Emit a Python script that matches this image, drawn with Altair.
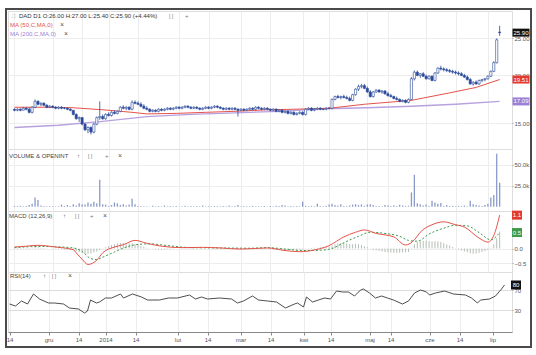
import altair as alt
import pandas as pd

# ---------------- data ----------------
opens = [
    16.3, 16.2, 16.3, 16.2, 16.4, 16.3, 16.0, 16.5, 17.1, 16.8,
    16.9, 16.7, 16.5, 16.6, 16.5, 16.4, 16.5, 16.4, 16.4, 16.3,
    16.2, 15.8, 15.4, 15.5, 14.9, 14.4, 14.6, 14.2, 14.9, 15.5,
    15.6, 15.4, 15.8, 15.7, 16.0, 15.9, 16.1, 16.5, 16.4, 16.5,
    16.3, 17.0, 16.9, 16.8, 16.6, 16.4, 16.3, 16.1, 16.2, 16.1,
    16.3, 16.2, 16.3, 16.4, 16.3, 16.4, 16.5, 16.4, 16.5, 16.6,
    16.5, 16.4, 16.5, 16.4, 16.3, 16.4, 16.5, 16.4, 16.5, 16.6,
    16.5, 16.4, 16.3, 16.4, 16.3, 16.4, 16.3, 16.2, 16.3, 16.2,
    16.3, 16.4, 16.3, 16.5, 16.4, 16.3, 16.4, 16.3, 16.2, 16.3,
    16.1, 16.2, 16.0, 16.1, 15.9, 16.0, 15.8, 15.9, 16.0, 15.8,
    16.3, 16.4, 16.2, 16.3, 16.4, 16.3, 16.3, 16.4, 16.4, 17.3,
    17.6, 17.5, 17.6, 17.5, 17.4, 17.2, 17.8, 18.4, 18.7, 18.8,
    18.5, 18.1, 17.6, 18.1, 18.3, 18.1, 18.2, 17.9, 17.7, 17.6,
    17.4, 17.3, 17.1, 17.2, 17.0, 17.3, 19.6, 20.4, 20.0, 20.2,
    19.9, 19.6, 19.9, 19.4, 20.3, 20.9, 20.8, 20.7, 20.6, 20.5,
    20.4, 20.3, 20.2, 20.0, 19.8, 19.5, 19.0, 19.2, 19.0, 19.4,
    19.5, 19.6, 19.9, 20.5, 21.6, 26.0,
]
highs = [
    16.4, 16.4, 16.4, 16.5, 16.5, 16.5, 16.6, 17.3, 17.2, 17.0,
    17.0, 16.8, 16.7, 16.7, 16.6, 16.6, 16.6, 16.5, 16.5, 16.4,
    16.2, 15.9, 15.6, 15.5, 15.0, 14.7, 14.7, 15.0, 15.6, 17.1,
    15.8, 15.9, 16.0, 16.1, 16.2, 16.2, 16.6, 16.7, 16.6, 16.6,
    17.2, 17.2, 17.1, 17.0, 16.8, 16.6, 16.4, 16.3, 16.3, 16.4,
    16.4, 16.4, 16.5, 16.5, 16.5, 16.6, 16.6, 16.6, 16.7, 16.7,
    16.6, 16.6, 16.6, 16.5, 16.5, 16.6, 16.6, 16.6, 16.7, 16.7,
    16.6, 16.5, 16.5, 16.5, 16.5, 16.5, 16.4, 16.4, 16.4, 16.4,
    16.5, 16.5, 16.6, 16.6, 16.5, 16.5, 16.5, 16.4, 16.4, 16.4,
    16.3, 16.3, 16.2, 16.2, 16.1, 16.1, 16.0, 16.1, 16.1, 16.4,
    16.5, 16.5, 16.4, 16.5, 16.5, 16.4, 16.5, 16.5, 17.4, 17.7,
    17.8, 17.7, 17.8, 17.7, 17.6, 17.9, 18.5, 18.9, 19.0, 19.0,
    18.7, 18.3, 18.2, 18.4, 18.4, 18.3, 18.3, 18.1, 17.9, 17.7,
    17.6, 17.4, 17.3, 17.3, 17.4, 19.8, 20.6, 20.6, 20.3, 20.4,
    20.1, 20.0, 20.0, 20.4, 21.0, 21.2, 21.0, 20.9, 20.8, 20.7,
    20.6, 20.5, 20.4, 20.2, 20.0, 19.7, 19.3, 19.4, 19.5, 19.6,
    19.7, 20.0, 20.6, 21.8, 25.0, 27.0,
]
lows = [
    16.1, 16.1, 16.1, 16.2, 16.2, 15.9, 15.9, 16.4, 16.7, 16.6,
    16.6, 16.4, 16.4, 16.4, 16.3, 16.3, 16.3, 16.3, 16.2, 16.1,
    15.7, 15.3, 15.1, 14.8, 14.3, 14.1, 14.0, 14.1, 14.8, 15.3,
    15.3, 15.3, 15.6, 15.6, 15.8, 15.8, 16.0, 16.3, 16.2, 16.2,
    16.2, 16.8, 16.7, 16.5, 16.3, 16.2, 16.0, 16.0, 16.0, 16.0,
    16.1, 16.1, 16.2, 16.2, 16.2, 16.3, 16.3, 16.3, 16.4, 16.4,
    16.3, 16.3, 16.3, 16.2, 16.2, 16.3, 16.3, 16.3, 16.4, 16.4,
    16.3, 16.2, 16.2, 16.2, 16.2, 16.2, 15.6, 16.1, 16.1, 16.1,
    16.2, 16.2, 16.2, 16.3, 16.2, 16.2, 16.2, 16.1, 16.1, 16.0,
    16.0, 15.9, 15.9, 15.8, 15.8, 15.7, 15.7, 15.8, 15.7, 15.7,
    16.2, 16.1, 16.1, 16.2, 16.2, 16.2, 16.2, 16.3, 16.3, 17.2,
    17.4, 17.3, 17.4, 17.3, 17.1, 17.1, 17.7, 18.2, 18.5, 18.4,
    18.0, 17.5, 17.5, 18.0, 18.0, 17.9, 17.8, 17.6, 17.5, 17.3,
    17.2, 17.0, 17.0, 16.9, 16.9, 17.2, 19.4, 19.9, 19.7, 19.8,
    19.5, 19.5, 19.3, 19.3, 20.2, 20.6, 20.5, 20.4, 20.3, 20.2,
    20.1, 20.0, 19.9, 19.7, 19.4, 18.9, 18.8, 18.9, 18.9, 19.2,
    19.3, 19.5, 19.8, 20.4, 21.5, 25.4,
]
closes = [
    16.2, 16.3, 16.2, 16.4, 16.3, 16.0, 16.5, 17.1, 16.8, 16.9,
    16.7, 16.5, 16.6, 16.5, 16.4, 16.5, 16.4, 16.4, 16.3, 16.2,
    15.8, 15.4, 15.5, 14.9, 14.4, 14.6, 14.2, 14.9, 15.5, 15.6,
    15.4, 15.8, 15.7, 16.0, 15.9, 16.1, 16.5, 16.4, 16.5, 16.3,
    17.0, 16.9, 16.8, 16.6, 16.4, 16.3, 16.1, 16.2, 16.1, 16.3,
    16.2, 16.3, 16.4, 16.3, 16.4, 16.5, 16.4, 16.5, 16.6, 16.5,
    16.4, 16.5, 16.4, 16.3, 16.4, 16.5, 16.4, 16.5, 16.6, 16.5,
    16.4, 16.3, 16.4, 16.3, 16.4, 16.3, 16.2, 16.3, 16.2, 16.3,
    16.4, 16.3, 16.5, 16.4, 16.3, 16.4, 16.3, 16.2, 16.3, 16.1,
    16.2, 16.0, 16.1, 15.9, 16.0, 15.8, 15.9, 16.0, 15.8, 16.3,
    16.4, 16.2, 16.3, 16.4, 16.3, 16.3, 16.4, 16.4, 17.3, 17.6,
    17.5, 17.6, 17.5, 17.4, 17.2, 17.8, 18.4, 18.7, 18.8, 18.5,
    18.1, 17.6, 18.1, 18.3, 18.1, 18.2, 17.9, 17.7, 17.6, 17.4,
    17.3, 17.1, 17.2, 17.0, 17.3, 19.6, 20.4, 20.0, 20.2, 19.9,
    19.6, 19.9, 19.4, 20.3, 20.9, 20.8, 20.7, 20.6, 20.5, 20.4,
    20.3, 20.2, 20.0, 19.8, 19.5, 19.0, 19.2, 19.0, 19.4, 19.5,
    19.6, 19.9, 20.5, 21.6, 24.8, 25.9,
]
volume_k = [
    1.0, 0.8, 1.2, 0.6, 0.9, 2.0, 3.5, 11.0, 8.0, 1.5,
    1.0, 0.5, 0.8, 0.6, 0.4, 0.7, 2.5, 1.0, 2.0, 0.8,
    3.0, 1.5, 4.0, 3.0, 2.5, 5.0, 3.5, 6.0, 4.0, 32.0,
    3.0, 2.5, 1.0, 2.0, 5.0, 4.0, 2.0, 3.0, 1.5, 2.5,
    9.5, 3.0, 1.0, 0.8, 0.5, 0.6, 0.4, 1.2, 0.5, 0.8,
    0.6, 1.5, 0.5, 0.8, 0.6, 1.0, 0.4, 0.7, 1.2, 0.6,
    0.8, 0.5, 1.0, 0.6, 1.3, 0.5, 0.8, 0.6, 1.0, 0.7,
    0.5, 0.9, 0.6, 1.4, 0.5, 0.8, 2.0, 0.6, 0.9, 0.5,
    0.7, 1.1, 0.5, 0.8, 0.6, 1.0, 0.4, 0.8, 0.6, 1.2,
    0.8, 2.0, 1.5, 0.6, 0.8, 0.5, 1.0, 0.7, 6.0, 1.2,
    0.8, 1.0, 0.6, 3.6, 0.9, 0.7, 1.1, 2.5, 3.5, 2.0,
    1.5, 3.0, 1.0, 0.8, 1.5, 2.5, 3.0, 2.0, 2.8, 1.0,
    2.5, 3.0, 2.0, 0.8, 1.0, 0.6, 2.0, 1.5, 0.8, 1.8,
    1.0, 2.2, 1.5, 0.8, 1.2, 17.0, 38.0, 4.0, 3.0, 1.5,
    2.5, 1.0, 7.0, 5.0, 3.5, 4.5, 1.0, 2.0, 0.8, 1.2,
    0.6, 1.0, 0.8, 1.5, 0.7, 7.0, 3.0, 2.0, 1.5, 1.0,
    2.0, 3.5, 11.0, 14.0, 63.0, 28.5,
]
macd_hist = [
    0.02, 0.02, 0.03, 0.03, 0.03, 0.02, 0.03, 0.05, 0.04, 0.03,
    0.02, 0.01, 0.00, -0.01, -0.01, -0.02, -0.02, -0.03, -0.03, -0.04,
    -0.06, -0.09, -0.12, -0.15, -0.18, -0.18, -0.17, -0.14, -0.10, -0.05,
    -0.01, 0.04, 0.08, 0.12, 0.15, 0.18, 0.19, 0.20, 0.19, 0.18,
    0.18, 0.15, 0.12, 0.09, 0.06, 0.03, 0.01, -0.01, -0.02, -0.03,
    -0.03, -0.03, -0.02, -0.02, -0.01, 0.00, 0.00, 0.01, 0.01, 0.02,
    0.02, 0.02, 0.01, 0.01, 0.01, 0.00, 0.01, 0.01, 0.02, 0.02,
    0.01, 0.00, -0.01, -0.01, -0.01, -0.02, -0.02, -0.02, -0.01, -0.01,
    0.00, 0.00, 0.01, 0.00, 0.00, -0.01, -0.01, -0.02, -0.03, -0.03,
    -0.04, -0.04, -0.05, -0.05, -0.05, -0.04, -0.04, -0.03, -0.03, -0.01,
    0.01, 0.02, 0.03, 0.03, 0.04, 0.04, 0.05, 0.06, 0.10, 0.14,
    0.17, 0.19, 0.20, 0.18, 0.15, 0.15, 0.16, 0.15, 0.12, 0.08,
    0.04, -0.01, -0.04, -0.06, -0.08, -0.10, -0.12, -0.13, -0.14, -0.15,
    -0.15, -0.15, -0.14, -0.13, -0.12, 0.02, 0.15, 0.22, 0.25, 0.27,
    0.28, 0.26, 0.24, 0.25, 0.24, 0.22, 0.18, 0.14, 0.10, 0.05,
    0.01, -0.03, -0.07, -0.10, -0.13, -0.16, -0.18, -0.17, -0.15, -0.12,
    -0.09, -0.05, 0.02, 0.15, 0.35, 0.58,
]

ma50_idx = [0, 10, 20, 30, 40, 45, 55, 65, 75, 86, 95, 107, 119, 135, 148, 157, 165]
ma50_val = [16.5, 16.5, 16.45, 16.25, 16.0, 15.85, 15.9, 16.0, 16.1, 16.25, 16.3, 16.4,
            16.8, 17.2, 18.0, 18.6, 19.51]
ma200_idx = [0, 15, 30, 45, 60, 75, 90, 105, 120, 135, 150, 165]
ma200_val = [14.6, 14.8, 15.15, 15.6, 15.8, 15.95, 16.1, 16.35, 16.45, 16.6, 16.8, 17.09]

macd_idx = [0, 4, 8, 14, 20, 21, 23, 25, 28, 30, 34, 37, 41, 45, 50, 57, 64, 70, 77, 86,
            92, 97, 102, 107, 112, 116, 119, 123, 129, 133, 136, 138, 142, 146, 150, 153,
            158, 161, 163, 164, 165]
macd_val = [0.05, 0.08, 0.11, 0.05, -0.04, -0.15, -0.37, -0.55, -0.40, -0.15, 0.05, 0.13,
            0.28, 0.18, 0.08, 0.03, 0.04, 0.02, -0.02, 0.02, -0.07, -0.11, -0.05, 0.10,
            0.40, 0.56, 0.64, 0.52, 0.40, 0.12, 0.30, 0.56, 0.82, 0.92, 0.82, 0.74, 0.36,
            0.22, 0.45, 0.75, 1.15]
signal_idx = [0, 8, 14, 20, 23, 26, 28, 30, 34, 38, 42, 46, 52, 60, 70, 80, 86, 92, 98, 104,
              108, 112, 117, 121, 126, 131, 134, 137, 141, 146, 150, 154, 158, 162, 165]
signal_val = [0.03, 0.07, 0.06, 0.02, -0.10, -0.35, -0.38, -0.30, -0.12, 0.05, 0.14, 0.16,
              0.10, 0.03, 0.02, 0.01, 0.03, -0.02, -0.07, -0.06, 0.0, 0.20, 0.42, 0.56,
              0.52, 0.42, 0.28, 0.25, 0.50, 0.70, 0.80, 0.78, 0.55, 0.30, 0.55]

rsi_idx = [0, 2, 4, 6, 8, 10, 13, 15, 18, 20, 23, 25, 26, 27, 29, 30, 32, 34, 37, 38, 41, 44,
           46, 50, 53, 56, 60, 62, 64, 66, 70, 74, 76, 78, 81, 83, 86, 89, 92, 95, 96, 98,
           99, 101, 103, 105, 107, 109, 111, 113, 115, 117, 118, 120, 122, 124, 126, 128,
           131, 133, 135, 137, 139, 140, 142, 145, 148, 152, 154, 156, 157, 160, 162, 164, 165]
rsi_val = [42, 38, 48, 42, 62, 52, 44, 44, 42, 34, 32, 24, 28, 50, 44, 46, 54, 54, 62, 54, 62,
           56, 50, 50, 54, 54, 60, 52, 56, 52, 54, 52, 44, 48, 58, 50, 48, 46, 34, 42, 44, 36,
           56, 46, 50, 54, 52, 68, 66, 66, 58, 70, 72, 64, 54, 58, 54, 50, 42, 48, 64, 70, 66,
           60, 64, 68, 62, 60, 54, 44, 50, 52, 58, 72, 80]

x_label_idx = [0, 13, 23, 32, 42, 56, 66, 77, 87, 98, 107, 120, 127, 140, 150, 161]
x_labels = ["14", "gru", "14", "2014", "14", "lut", "14", "mar", "14", "kwi", "14", "maj",
            "14", "cze", "14", "lip"]

price_ticks = [15, 20, 25]
vol_ticks = [25, 50]
macd_ticks = [-0.5, 0.0]
rsi_ticks = [30, 70]

header_text = "DAD D1 O:26.00 H:27.00 L:25.40 C:25.90 (+4.44%)"
ma50_text = "MA (50,C,MA,0)"
ma200_text = "MA (200,C,MA,0)"
vol_text = "VOLUME & OPENINT"
macd_text = "MACD (12,26,9)"
rsi_text = "RSI(14)"
last_close_label = "25.90"
ma50_label = "19.51"
ma200_label = "17.09"
macd_label = "1.1"
signal_label = "0.5"
rsi_label = "80"

# ---------------- styling ----------------
FONT = "Liberation Sans"
BLUE = "#2b4a9b"
RED = "#e5524a"
PURPLE = "#b7a1df"
PURPLE_BOX = "#9b80d5"
GREEN = "#3c9a4a"
GRID = "#ededed"
W = 504
H_PRICE, H_VOL, H_MACD, H_RSI = 138, 62, 61, 60
XDOM = [-0.5, 167.5]

df = pd.DataFrame({"i": list(range(len(closes))), "open": opens, "high": highs,
                   "low": lows, "close": closes, "vol": volume_k, "hist": macd_hist})
one = pd.DataFrame({"k": [0]})

lab_expr = "[" + ",".join("'" + s + "'" for s in x_labels) + "][indexof([" + \
    ",".join(str(v) for v in x_label_idx) + "], datum.value)]"


def xenc(bottom=False):
    if bottom:
        ax = alt.Axis(values=x_label_idx, labelExpr=lab_expr, grid=True, gridColor=GRID,
                      labelFontSize=6, labelColor="#555", labelFont=FONT, tickSize=3,
                      tickColor="#888", domainColor="#888", labelPadding=1, title=None,
                      labelFlush=False, labelOverlap=False)
    else:
        ax = alt.Axis(values=x_label_idx, grid=True, gridColor=GRID, labels=False,
                      ticks=False, domain=False, title=None)
    return alt.X("i:Q", scale=alt.Scale(domain=XDOM, nice=False, zero=False), axis=ax)


def yaxis(values, fmt=None, expr=None):
    kw = dict(orient="right", values=values, grid=True, gridColor=GRID, domain=False,
              tickSize=1, tickColor="#999", labelFontSize=6, labelColor="#555",
              labelFont=FONT, labelPadding=1, title=None)
    if fmt:
        kw["format"] = fmt
    if expr:
        kw["labelExpr"] = expr
    return alt.Axis(**kw)


def label(text, x, y, color="#444", size=6):
    return alt.Chart(one).mark_text(text=text, align="left", baseline="middle",
                                    fontSize=size, font=FONT, color=color).encode(
        x=alt.value(x), y=alt.value(y))


def box(value, text, color, w, h, xc, yscale, yax):
    d = pd.DataFrame({"v": [value], "t": [text]})
    r = h / w
    path = f"M-1,-{r:.3f}L1,-{r:.3f}L1,{r:.3f}L-1,{r:.3f}Z"
    y = alt.Y("v:Q", scale=yscale, axis=yax)
    b = alt.Chart(d).mark_point(shape=path, size=w * w, filled=True, color=color,
                                opacity=1, strokeWidth=0).encode(x=alt.value(xc), y=y)
    t = alt.Chart(d).mark_text(color="white", fontSize=6, font=FONT, align="center",
                               baseline="middle").encode(x=alt.value(xc), y=y, text="t:N")
    return b + t


# ---------------- price panel ----------------
p_scale = alt.Scale(type="log", domain=[12.82, 29.52], nice=False, zero=False)
p_axis = yaxis(price_ticks, fmt=".2f")
base = alt.Chart(df)
wick = base.mark_rule(color=BLUE, strokeWidth=0.8).encode(
    x=xenc(), y=alt.Y("low:Q", scale=p_scale, axis=p_axis), y2="high:Q")
body = base.mark_bar(size=2.2, stroke=BLUE, strokeWidth=0.6).encode(
    x=xenc(), y=alt.Y("open:Q", scale=p_scale, axis=p_axis), y2="close:Q",
    fill=alt.condition("datum.close >= datum.open", alt.value("white"), alt.value(BLUE)))
ma50 = alt.Chart(pd.DataFrame({"i": ma50_idx, "v": ma50_val})).mark_line(
    color=RED, strokeWidth=1).encode(x=xenc(), y=alt.Y("v:Q", scale=p_scale, axis=p_axis))
ma200 = alt.Chart(pd.DataFrame({"i": ma200_idx, "v": ma200_val})).mark_line(
    color=PURPLE, strokeWidth=1.3).encode(x=xenc(), y=alt.Y("v:Q", scale=p_scale, axis=p_axis))
frame = alt.Chart(one).mark_rect(fill="transparent", stroke="#4a4a4a", strokeWidth=2).encode(
    x=alt.value(-2), x2=alt.value(523), y=alt.value(-2), y2=alt.value(336))

price = alt.layer(
    ma200, ma50, wick, body,
    box(closes[-1], last_close_label, "#111111", 17, 8, 513, p_scale, p_axis),
    box(ma50_val[-1], ma50_label, "#e23a2e", 17, 8, 513, p_scale, p_axis),
    box(ma200_val[-1], ma200_label, PURPLE_BOX, 17, 8, 513, p_scale, p_axis),
    label("\u25a1", 4, 5, "#aaa", 6),
    label(header_text, 11, 5, "#333"),
    label("[ ]", 161, 5, "#777", 5),
    label("+", 177, 5, "#777"),
    label(ma50_text, 2, 14, RED),
    label("\u00d7", 52, 14, "#555", 7),
    label(ma200_text, 2, 23, PURPLE_BOX),
    label("\u00d7", 56, 23, "#555", 7),
    frame,
).properties(width=W, height=H_PRICE)

# ---------------- volume panel ----------------
v_scale = alt.Scale(domain=[-5.1, 68.7], nice=False, zero=False)
v_axis = yaxis(vol_ticks, expr="format(datum.value, '.1f') + 'k'")
vol = alt.layer(
    base.mark_bar(size=1.3, color="#8a9ac8").encode(
        x=xenc(), y=alt.Y("vol:Q", scale=v_scale, axis=v_axis), y2=alt.datum(0)),
    label(vol_text, 1, 7, "#444"),
    label("\u2191", 69, 7, "#555"),
    label("[ ]", 80, 7, "#777", 5),
    label("+", 97, 7, "#777"),
    label("\u00d7", 110, 7, "#555", 7),
).properties(width=W, height=H_VOL)

# ---------------- MACD panel ----------------
m_scale = alt.Scale(domain=[-0.81, 1.293], nice=False, zero=False)
m_axis = yaxis(macd_ticks, fmt=".1f")
hist = base.mark_bar(size=1, color="#b5bdb5").encode(
    x=xenc(), y=alt.Y("hist:Q", scale=m_scale, axis=m_axis), y2=alt.datum(0))
macd_line = alt.Chart(pd.DataFrame({"i": macd_idx, "v": macd_val})).mark_line(
    color=RED, strokeWidth=1, interpolate="monotone").encode(
    x=xenc(), y=alt.Y("v:Q", scale=m_scale, axis=m_axis))
sig_line = alt.Chart(pd.DataFrame({"i": signal_idx, "v": signal_val})).mark_line(
    color=GREEN, strokeWidth=1, strokeDash=[2, 2], interpolate="monotone").encode(
    x=xenc(), y=alt.Y("v:Q", scale=m_scale, axis=m_axis))
macd = alt.layer(
    hist, sig_line, macd_line,
    box(macd_val[-1], macd_label, "#e23a2e", 10, 9, 509, m_scale, m_axis),
    box(signal_val[-1], signal_label, GREEN, 10, 9, 509, m_scale, m_axis),
    label(macd_text, 1, 5, "#444"),
    label("\u2191", 55, 5, "#555"),
    label("[ ]", 67, 5, "#777", 5),
    label("+", 82, 5, "#777"),
    label("\u00d7", 95, 5, "#555", 7),
).properties(width=W, height=H_MACD)

# ---------------- RSI panel ----------------
r_scale = alt.Scale(domain=[-14, 106], nice=False, zero=False)
r_axis = yaxis(rsi_ticks, fmt="d")
r_axis_grid = alt.Axis(orient="right", values=rsi_ticks, grid=True, gridColor="#dcdcdc",
                       domain=False, tickSize=1, tickColor="#999", labelFontSize=6,
                       labelColor="#555", labelFont=FONT, labelPadding=1, title=None,
                       format="d")
rsi_line = alt.Chart(pd.DataFrame({"i": rsi_idx, "v": rsi_val})).mark_line(
    color="#3a3a3a", strokeWidth=0.9).encode(
    x=xenc(bottom=True), y=alt.Y("v:Q", scale=r_scale, axis=r_axis_grid))
rsi = alt.layer(
    rsi_line,
    box(rsi_val[-1], rsi_label, "#111111", 10, 9, 508, r_scale, r_axis_grid),
    label(rsi_text, 2, 4, "#444"),
    label("\u2191", 35, 4, "#555"),
    label("[ ]", 44, 4, "#777", 5),
    label("\u00d7", 60, 4, "#555", 7),
).properties(width=W, height=H_RSI)

chart = alt.vconcat(price, vol, macd, rsi, spacing=0, bounds="flush").properties(
    padding={"left": 4, "top": 7, "right": 2, "bottom": 2}
).configure_view(stroke="#cdcdcd", strokeWidth=1).configure(background="white")

chart.save("out.html", embed_options={"renderer": "svg", "actions": False})
